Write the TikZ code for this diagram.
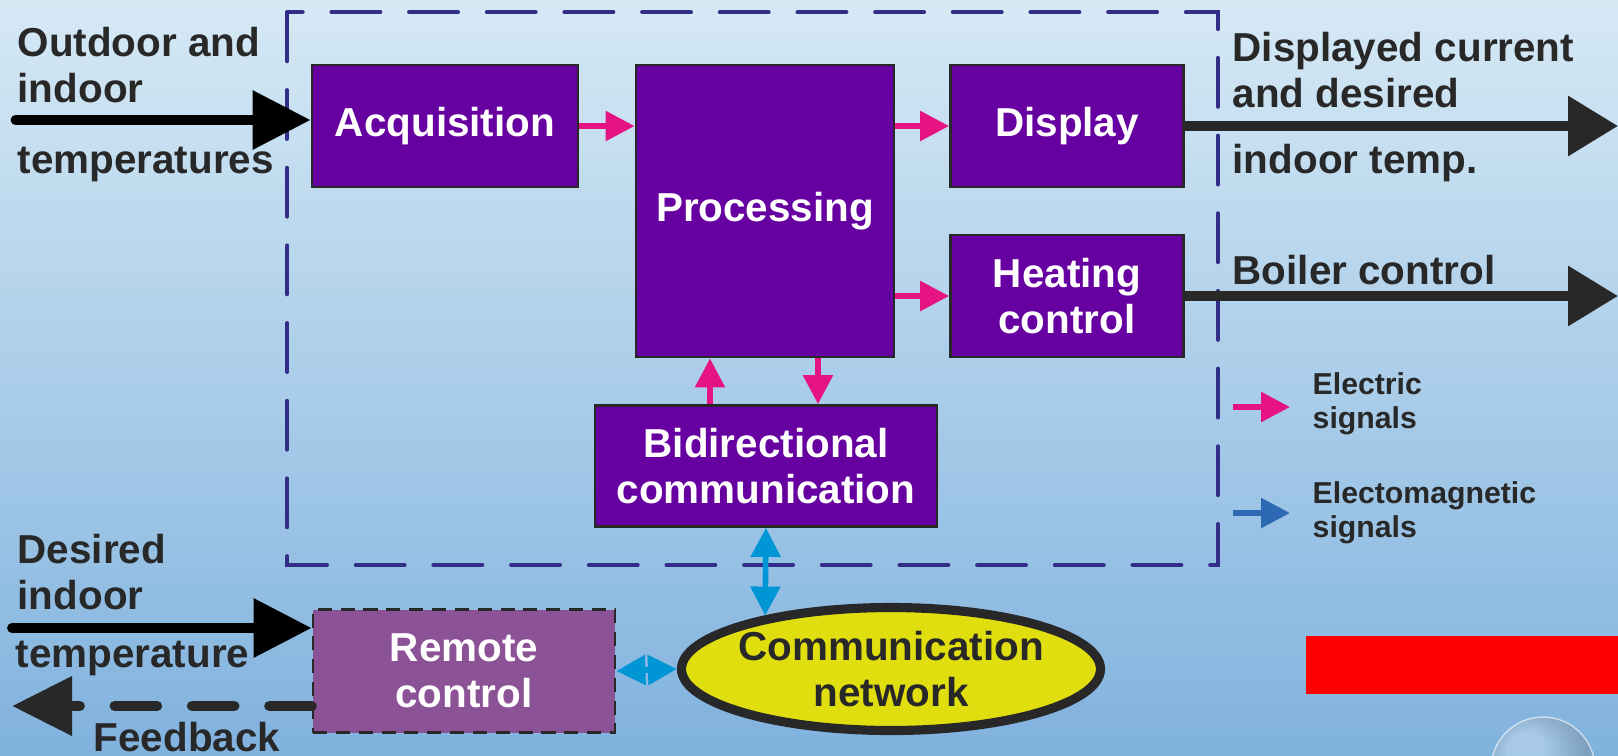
\documentclass[tikz,border=0pt]{standalone}
\usepackage{fontspec}
\setmainfont{Liberation Sans}
\usetikzlibrary{arrows.meta,shapes.geometric}

\definecolor{bgtop}{RGB}{214,233,245}
\definecolor{bgbot}{RGB}{128,178,222}
\definecolor{boxpurple}{RGB}{102,0,160}
\definecolor{framedash}{RGB}{50,45,135}
\definecolor{sigpink}{RGB}{230,20,130}
\definecolor{sigblue}{RGB}{0,150,214}
\definecolor{legblue}{RGB}{45,105,180}
\definecolor{inkdark}{RGB}{40,40,40}
\definecolor{remotefill}{RGB}{140,82,150}
\definecolor{netyellow}{RGB}{225,222,16}

\begin{document}
\begin{tikzpicture}[
  font=\fontsize{11.5}{13}\selectfont\bfseries,
  block/.style={draw=inkdark, line width=0.8pt, fill=boxpurple, text=white, align=center, inner sep=0pt},
  lbl/.style={text=inkdark, align=left, inner sep=0pt, anchor=base west},
  legtext/.style={lbl, font=\fontsize{8.6}{9.6}\selectfont\bfseries},
  elarrow/.style={sigpink, line width=1.6pt, -{Triangle[length=0.29cm,width=0.29cm]}},
  emarrow/.style={sigblue, line width=1.6pt, {Triangle[length=0.29cm,width=0.29cm]}-{Triangle[length=0.29cm,width=0.29cm]}},
  bigarrow/.style={line width=2.8pt, -{Triangle[length=0.58cm,width=0.57cm]}},
]
\useasboundingbox (0,0) rectangle (16.18,-7.55);
\shade[top color=bgtop, bottom color=bgbot] (0,0) rectangle (16.18,-7.55);
\shade[ball color=white, opacity=0.3] (15.43,-7.69) circle (0.52);
\draw[white, opacity=0.6] (15.43,-7.69) circle (0.52);
\fill[red] (13.06,-6.36) rectangle (16.18,-6.94);

\draw[framedash, line width=1.15pt, line cap=round, dash pattern=on 13.9pt off 8.2pt] (2.87,-0.124) rectangle (12.18,-5.65);

\node[block, minimum width=2.66cm, minimum height=1.22cm] (acq) at (4.45,-1.26) {Acquisition};
\node[block, minimum width=2.58cm, minimum height=2.92cm] (proc) at (7.65,-2.11) {Processing};
\node[block, minimum width=2.33cm, minimum height=1.22cm] (disp) at (10.67,-1.26) {Display};
\node[block, minimum width=2.33cm, minimum height=1.22cm] (heat) at (10.67,-2.96) {Heating\\control};
\node[block, minimum width=3.42cm, minimum height=1.21cm] (bidir) at (7.66,-4.66) {Bidirectional\\communication};
\node[block, fill=remotefill, dash pattern=on 4pt off 2.5pt, minimum width=3.02cm, minimum height=1.23cm] (remote) at (4.64,-6.71) {Remote\\control};
\node[ellipse, draw=inkdark, line width=2.6pt, fill=netyellow, text=inkdark, align=center, inner sep=0pt, inner xsep=-0.06cm, minimum width=4.19cm, minimum height=1.23cm] (net) at (8.91,-6.69) {Communication\\network};

\coordinate (tin) at (0.155,-1.20);
\draw[bigarrow, black, line cap=round] (tin) -- (tin -| acq.west);
\coordinate (tdisp) at (16.18,-1.26);
\draw[bigarrow, inkdark, -{Triangle[length=0.5cm,width=0.58cm]}] (disp.east) -- (tdisp);
\coordinate (theat) at (16.18,-2.96);
\draw[bigarrow, inkdark, -{Triangle[length=0.5cm,width=0.58cm]}] (heat.east) -- (theat);
\coordinate (tdes) at (0.12,-6.28);
\draw[bigarrow, black, line cap=round] (tdes) -- (tdes -| remote.west);
\coordinate (tfb) at (0.12,-7.06);
\draw[bigarrow, inkdark, line width=3pt, line cap=round, dash pattern=on 12pt off 10pt, -{Triangle[length=0.6cm,width=0.57cm]}] (remote.west |- tfb) -- (tfb);

\draw[elarrow] (acq.east) -- (acq.east -| proc.west);
\draw[elarrow] (disp.west -| proc.east) -- (disp.west);
\draw[elarrow] (heat.west -| proc.east) -- (heat.west);
\draw[elarrow] ([xshift=-0.56cm]bidir.north) -- ([xshift=-0.56cm]bidir.north |- proc.south);
\draw[elarrow] ([xshift=0.52cm]bidir.north |- proc.south) -- ([xshift=0.52cm]bidir.north);
\draw[emarrow] (bidir.south) -- (net.157);
\draw[emarrow] (remote.east) -- (net.west);

\node[lbl] (outin) at (0.17,-1.02) {Outdoor and\\indoor};
\node[lbl] (outtemp) at (0.17,-1.73) {temperatures};
\node[lbl] (dispcur) at (12.32,-1.07) {Displayed current\\and desired};
\node[lbl] (disptemp) at (12.32,-1.73) {indoor temp.};
\node[lbl] (boiler) at (12.32,-2.84) {Boiler control};
\node[lbl] (desin) at (0.17,-6.09) {Desired\\indoor};
\node[lbl] (destemp) at (0.15,-6.67) {temperature};
\node[lbl] (fb) at (0.93,-7.51) {Feedback};

\coordinate (elfrom) at (12.33,-4.07);
\coordinate (elto) at (12.90,-4.07);
\draw[elarrow] (elfrom) -- (elto);
\coordinate (emfrom) at (12.33,-5.13);
\coordinate (emto) at (12.90,-5.13);
\draw[elarrow, legblue] (emfrom) -- (emto);
\node[legtext] (elec) at (13.12,-4.28) {Electric\\signals};
\node[legtext] (emag) at (13.12,-5.37) {Electomagnetic\\signals};
\end{tikzpicture}
\end{document}
